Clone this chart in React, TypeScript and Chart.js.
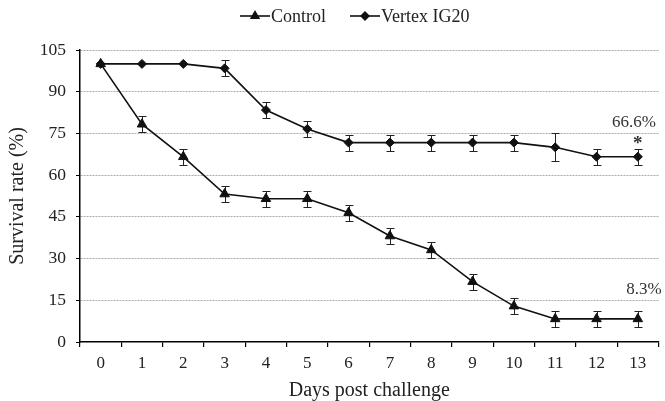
import React, { useEffect, useRef } from 'react';
import { Chart, registerables } from 'chart.js';

Chart.register(...registerables);

const days = ['0', '1', '2', '3', '4', '5', '6', '7', '8', '9', '10', '11', '12', '13'];
const controlValues = [100, 78.3, 66.6, 53.2, 51.5, 51.5, 46.5, 38.1, 33.1, 21.7, 12.9, 8.3, 8.3, 8.3];
const controlErrors = [0, 2.9, 2.9, 2.9, 2.9, 2.9, 2.9, 2.9, 2.9, 2.9, 2.9, 2.9, 2.9, 2.9];
const vertexValues = [100, 100, 100, 98.4, 83.4, 76.6, 71.7, 71.7, 71.7, 71.7, 71.7, 70.0, 66.6, 66.6];
const vertexErrors = [0, 0, 0, 2.9, 2.9, 2.9, 2.9, 2.9, 2.9, 2.9, 2.9, 5.0, 2.9, 2.9];
const seriesLabels = ['Control', 'Vertex IG20'];
const finalLabels = ['8.3%', '66.6%'];
const significanceMark = '*';

const FONT = '"Liberation Serif", "Times New Roman", serif';
const INK = '#111';

const errorBarPlugin = {
  id: 'errorBars',
  beforeDatasetsDraw(chart: any) {
    const { ctx } = chart;
    const y = chart.scales.y;
    ctx.save();
    ctx.strokeStyle = '#222';
    ctx.lineWidth = 1;
    chart.data.datasets.forEach((ds: any, di: number) => {
      const meta = chart.getDatasetMeta(di);
      const errs: number[] = ds.errors || [];
      meta.data.forEach((pt: any, i: number) => {
        const e = errs[i];
        if (!e) return;
        const v = ds.data[i];
        const yt = Math.round(y.getPixelForValue(v + e)) + 0.5;
        const yb = Math.round(y.getPixelForValue(v - e)) + 0.5;
        const x = Math.round(pt.x) + 0.5;
        ctx.beginPath();
        ctx.moveTo(x, yt);
        ctx.lineTo(x, yb);
        ctx.moveTo(x - 4, yt);
        ctx.lineTo(x + 4, yt);
        ctx.moveTo(x - 4, yb);
        ctx.lineTo(x + 4, yb);
        ctx.stroke();
      });
    });
    ctx.restore();
  },
};

const annotationPlugin = {
  id: 'finalAnnotations',
  afterDatasetsDraw(chart: any) {
    const { ctx } = chart;
    const xs = chart.scales.x;
    const ys = chart.scales.y;
    const last = days.length - 1;
    const px = xs.getPixelForValue(last);
    ctx.save();
    ctx.fillStyle = '#333';
    ctx.font = `17px ${FONT}`;
    ctx.textAlign = 'center';
    ctx.textBaseline = 'middle';
    const vy = ys.getPixelForValue(vertexValues[last]);
    ctx.fillText(finalLabels[1], px - 4, vy - 34);
    ctx.font = `bold 19px ${FONT}`;
    ctx.fillText(significanceMark, px, vy - 13);
    const cy = ys.getPixelForValue(controlValues[last]);
    ctx.font = `17px ${FONT}`;
    ctx.fillText(finalLabels[0], px + 6, cy - 29);
    ctx.restore();
  },
};

function drawMarker(ctx: CanvasRenderingContext2D, style: string, r: number, x: number, y: number) {
  ctx.beginPath();
  if (style === 'triangle') {
    for (let k = 0; k < 3; k++) {
      const a = (k * 2 * Math.PI) / 3;
      const px = x + Math.sin(a) * r;
      const py = y - Math.cos(a) * r;
      if (k === 0) ctx.moveTo(px, py);
      else ctx.lineTo(px, py);
    }
  } else {
    ctx.moveTo(x, y - r);
    ctx.lineTo(x + r, y);
    ctx.lineTo(x, y + r);
    ctx.lineTo(x - r, y);
  }
  ctx.closePath();
  ctx.fill();
}

const legendPlugin = {
  id: 'customLegend',
  afterDraw(chart: any) {
    const { ctx } = chart;
    ctx.save();
    ctx.font = `18px ${FONT}`;
    ctx.textBaseline = 'middle';
    ctx.textAlign = 'left';
    let x = 240;
    const y = 16;
    chart.data.datasets.forEach((ds: any) => {
      ctx.strokeStyle = INK;
      ctx.lineWidth = 1.6;
      ctx.beginPath();
      ctx.moveTo(x, y);
      ctx.lineTo(x + 30, y);
      ctx.stroke();
      ctx.fillStyle = INK;
      drawMarker(ctx, ds.pointStyle, ds.pointRadius + 0.5, x + 15, y);
      ctx.fillStyle = '#222';
      ctx.fillText(ds.label, x + 31, y + 1);
      x += 31 + ctx.measureText(ds.label).width + 24;
    });
    ctx.restore();
  },
};

export default function App() {
  const ref = useRef<HTMLCanvasElement | null>(null);
  useEffect(() => {
    if (!ref.current) return;
    const chart = new Chart(ref.current, {
      type: 'line',
      data: {
        labels: days,
        datasets: [
          {
            label: seriesLabels[0],
            data: controlValues,
            errors: controlErrors,
            borderColor: INK,
            backgroundColor: INK,
            borderWidth: 1.6,
            pointStyle: 'triangle',
            pointRadius: 5.5,
            pointBorderWidth: 1,
            tension: 0,
          } as any,
          {
            label: seriesLabels[1],
            data: vertexValues,
            errors: vertexErrors,
            borderColor: INK,
            backgroundColor: INK,
            borderWidth: 1.6,
            pointStyle: 'rectRot',
            pointRadius: 4.5,
            pointBorderWidth: 1,
            tension: 0,
          } as any,
        ],
      },
      options: {
        animation: false,
        responsive: false,
        maintainAspectRatio: false,
        layout: { padding: { top: 50, right: 3, left: 0, bottom: 0 } },
        plugins: {
          legend: { display: false },
          tooltip: { enabled: false },
        },
        scales: {
          x: {
            type: 'category',
            offset: true,
            afterFit: (s: any) => {
              s.height = 59;
            },
            grid: {
              offset: true,
              drawOnChartArea: false,
              drawTicks: true,
              tickLength: 5,
              color: '#000',
              lineWidth: 1.2,
            },
            border: { display: true, color: '#000', width: 1.5 },
            ticks: {
              font: { family: FONT, size: 17 },
              color: '#222',
              padding: 6,
              maxRotation: 0,
            },
            title: {
              display: true,
              text: 'Days post challenge',
              font: { family: FONT, size: 20 },
              color: '#222',
              padding: { top: 0, bottom: -2 },
            },
          },
          y: {
            min: 0,
            max: 105,
            afterFit: (s: any) => {
              s.width = 80;
            },
            ticks: {
              stepSize: 15,
              font: { family: FONT, size: 17.5 },
              color: '#222',
              padding: 10,
            },
            grid: {
              drawTicks: true,
              tickLength: 4,
              color: (c: any) => (c.tick && c.tick.value === 0 ? 'rgba(0,0,0,0)' : '#aaa'),
              tickColor: '#000',
              lineWidth: 1,
              tickBorderDash: [],
            } as any,
            border: { display: true, color: '#000', width: 1.5, dash: [2, 1] },
            title: {
              display: true,
              text: 'Survival rate (%)',
              font: { family: FONT, size: 20 },
              color: '#222',
              padding: { top: 6, bottom: 4 },
            },
          },
        },
      } as any,
      plugins: [errorBarPlugin, annotationPlugin, legendPlugin],
    });
    return () => chart.destroy();
  }, []);
  return (
    <div style={{ position: 'absolute', left: 0, top: 0, width: 665, height: 401, background: '#fff' }}>
      <canvas ref={ref} width={665} height={401} style={{ display: 'block', width: 665, height: 401 }} />
    </div>
  );
}
